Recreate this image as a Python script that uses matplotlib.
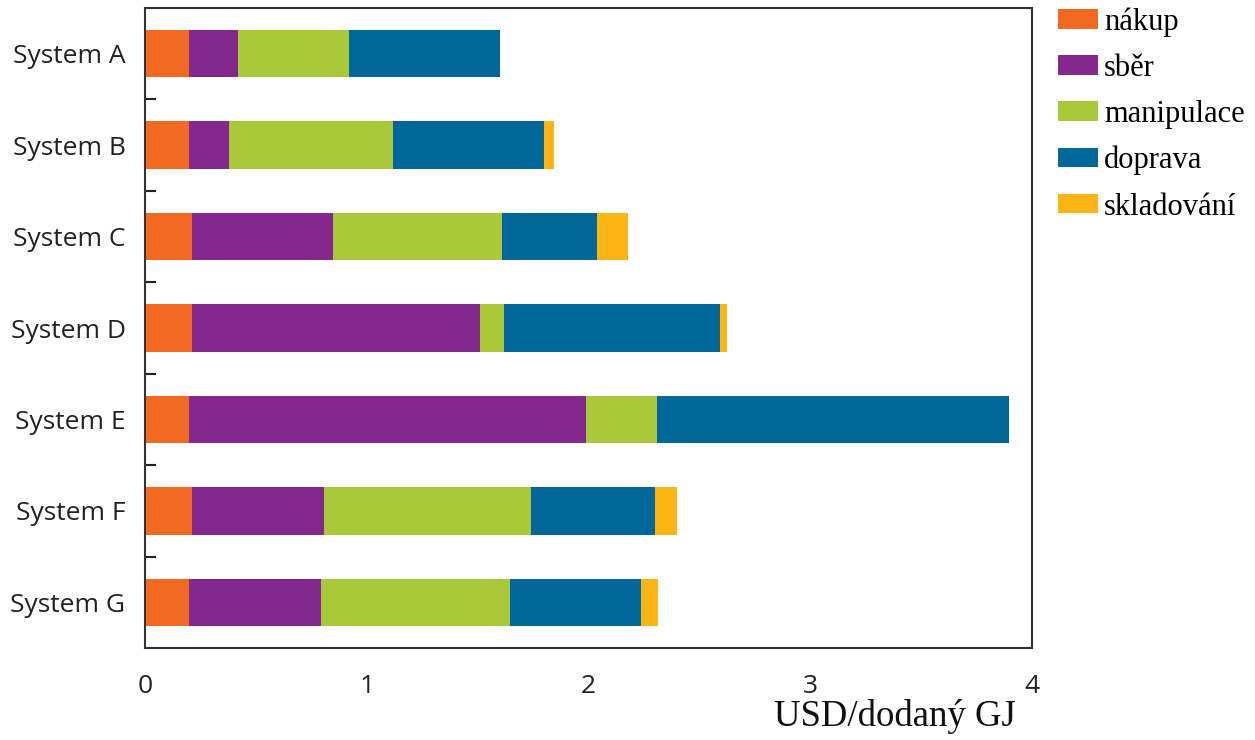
import matplotlib
matplotlib.use("Agg")
import matplotlib.pyplot as plt
import numpy as np

systems = ["System A", "System B", "System C", "System D", "System E", "System F", "System G"]
series_names = ["nákup", "sběr", "manipulace", "doprava", "skladování"]
nakup = [0.20, 0.20, 0.21, 0.21, 0.20, 0.21, 0.20]
sber = [0.22, 0.18, 0.64, 1.30, 1.79, 0.595, 0.595]
manipulace = [0.50, 0.74, 0.76, 0.11, 0.32, 0.935, 0.85]
doprava = [0.68, 0.68, 0.43, 0.975, 1.585, 0.56, 0.59]
skladovani = [0.0, 0.045, 0.14, 0.03, 0.0, 0.10, 0.08]
colors = ["#F26A22", "#84288F", "#A9C93A", "#00679B", "#FDB515"]
xticks = [0, 1, 2, 3, 4]
xlabel = "USD/dodaný GJ"

fig = plt.figure(figsize=(12.55, 7.4), dpi=100)
ax = fig.add_axes([145/1255, 1-648/740, (1032-145)/1255, (648-8)/740])

y = np.arange(len(systems))
left = np.zeros(len(systems))
for name, vals, c in zip(series_names, [nakup, sber, manipulace, doprava, skladovani], colors):
    vals = np.array(vals)
    ax.barh(y, vals, left=left, height=0.52, color=c, label=name, linewidth=0)
    left += vals

ax.set_xlim(0, 4)
ax.set_ylim(len(systems) - 0.5, -0.5)
ax.set_xticks(xticks)
ax.set_xticklabels([str(t) for t in xticks], fontfamily="Open Sans", fontsize=19, color="#222222")
ax.set_yticks(y)
ax.set_yticklabels(systems, fontfamily="Open Sans", fontsize=19, color="#222222")
ax.set_yticks(np.arange(0.5, len(systems) - 1, 1.0), minor=True)
ax.tick_params(axis="x", length=0, pad=19)
ax.tick_params(axis="y", which="major", length=0, pad=14)
ax.tick_params(axis="y", which="minor", direction="in", length=8, width=1.5, color="#222222")
for s in ax.spines.values():
    s.set_color("#333333")
    s.set_linewidth(1.5)

fig.text(1016/1255, 1-716/740, xlabel, ha="right", va="center",
         fontfamily="Liberation Serif", fontsize=26.5, color="#111111")

handles, labels = ax.get_legend_handles_labels()
leg = fig.legend(handles, labels, loc="upper left", bbox_to_anchor=(1052/1255, 1-1/740),
                 frameon=False, prop={"family": "Liberation Serif", "size": 22},
                 handlelength=1.3, handleheight=0.6, labelspacing=0.56, handletextpad=0.2,
                 borderaxespad=0, borderpad=0.2)

fig.savefig("out.png", dpi=100)
